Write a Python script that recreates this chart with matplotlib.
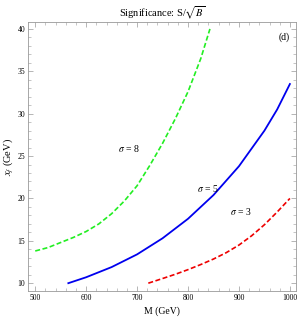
import matplotlib.pyplot as plt
from matplotlib.ticker import MultipleLocator

plt.rcParams['font.family'] = ['Liberation Serif', 'DejaVu Serif']
plt.rcParams['mathtext.fontset'] = 'stix'

# sigma = 8 (green, dashed)
m8 = [500, 525, 550, 575, 600, 625, 650, 675, 700, 725, 750, 775, 800, 825, 843]
x8 = [13.8, 14.2, 14.8, 15.4, 16.1, 17.0, 18.2, 19.7, 21.5, 23.9, 26.5, 29.4, 32.6, 36.5, 40.0]

# sigma = 5 (blue, solid)
m5 = [565, 600, 650, 700, 750, 800, 850, 900, 950, 975, 1000]
x5 = [10.0, 10.7, 11.9, 13.4, 15.3, 17.6, 20.4, 23.8, 28.0, 30.5, 33.5]

# sigma = 3 (red, dashed)
m3 = [722, 750, 775, 800, 825, 850, 875, 900, 925, 950, 975, 1000]
x3 = [10.0, 10.55, 11.05, 11.6, 12.2, 12.85, 13.6, 14.5, 15.6, 16.9, 18.4, 20.0]

fig = plt.figure(figsize=(2.99, 3.21), dpi=100)
ax = fig.add_axes([0.094, 0.093, 0.896, 0.838])

ax.plot(m8, x8, color='#22ee22', lw=1.2, ls=(0, (3, 1.5)))
ax.plot(m5, x5, color='#0000ee', lw=1.3)
ax.plot(m3, x3, color='#ee0000', lw=1.2, ls=(0, (3, 1.5)))

ax.text(683, 25.9, r'$\sigma$ = 8', fontsize=7, ha='center', va='center')
ax.text(838, 21.2, r'$\sigma$ = 5', fontsize=7, ha='center', va='center')
ax.text(903, 18.4, r'$\sigma$ = 3', fontsize=7, ha='center', va='center')
ax.text(988, 39.0, '(d)', fontsize=7, ha='center', va='center')

ax.set_xlim(486, 1012)
ax.set_ylim(9.06, 40.8)
ax.xaxis.set_major_locator(MultipleLocator(100))
ax.xaxis.set_minor_locator(MultipleLocator(20))
ax.yaxis.set_major_locator(MultipleLocator(5))
ax.yaxis.set_minor_locator(MultipleLocator(1))
ax.tick_params(which='both', direction='in', top=True, right=True,
               colors='#999999', labelcolor='black', labelsize=5.5, pad=2)
ax.tick_params(which='major', length=3.5, width=0.5)
ax.tick_params(which='minor', length=2, width=0.4)
for s in ax.spines.values():
    s.set_color('#999999')
    s.set_linewidth(0.6)

ax.set_title(r'Significance: S/$\sqrt{B}$', fontsize=7.5, pad=4)
ax.set_xlabel('M (GeV)', fontsize=7, labelpad=3)
ax.set_ylabel(r'$x_f$ (GeV)', fontsize=7.5, labelpad=2)

fig.savefig('out.png', dpi=100)
